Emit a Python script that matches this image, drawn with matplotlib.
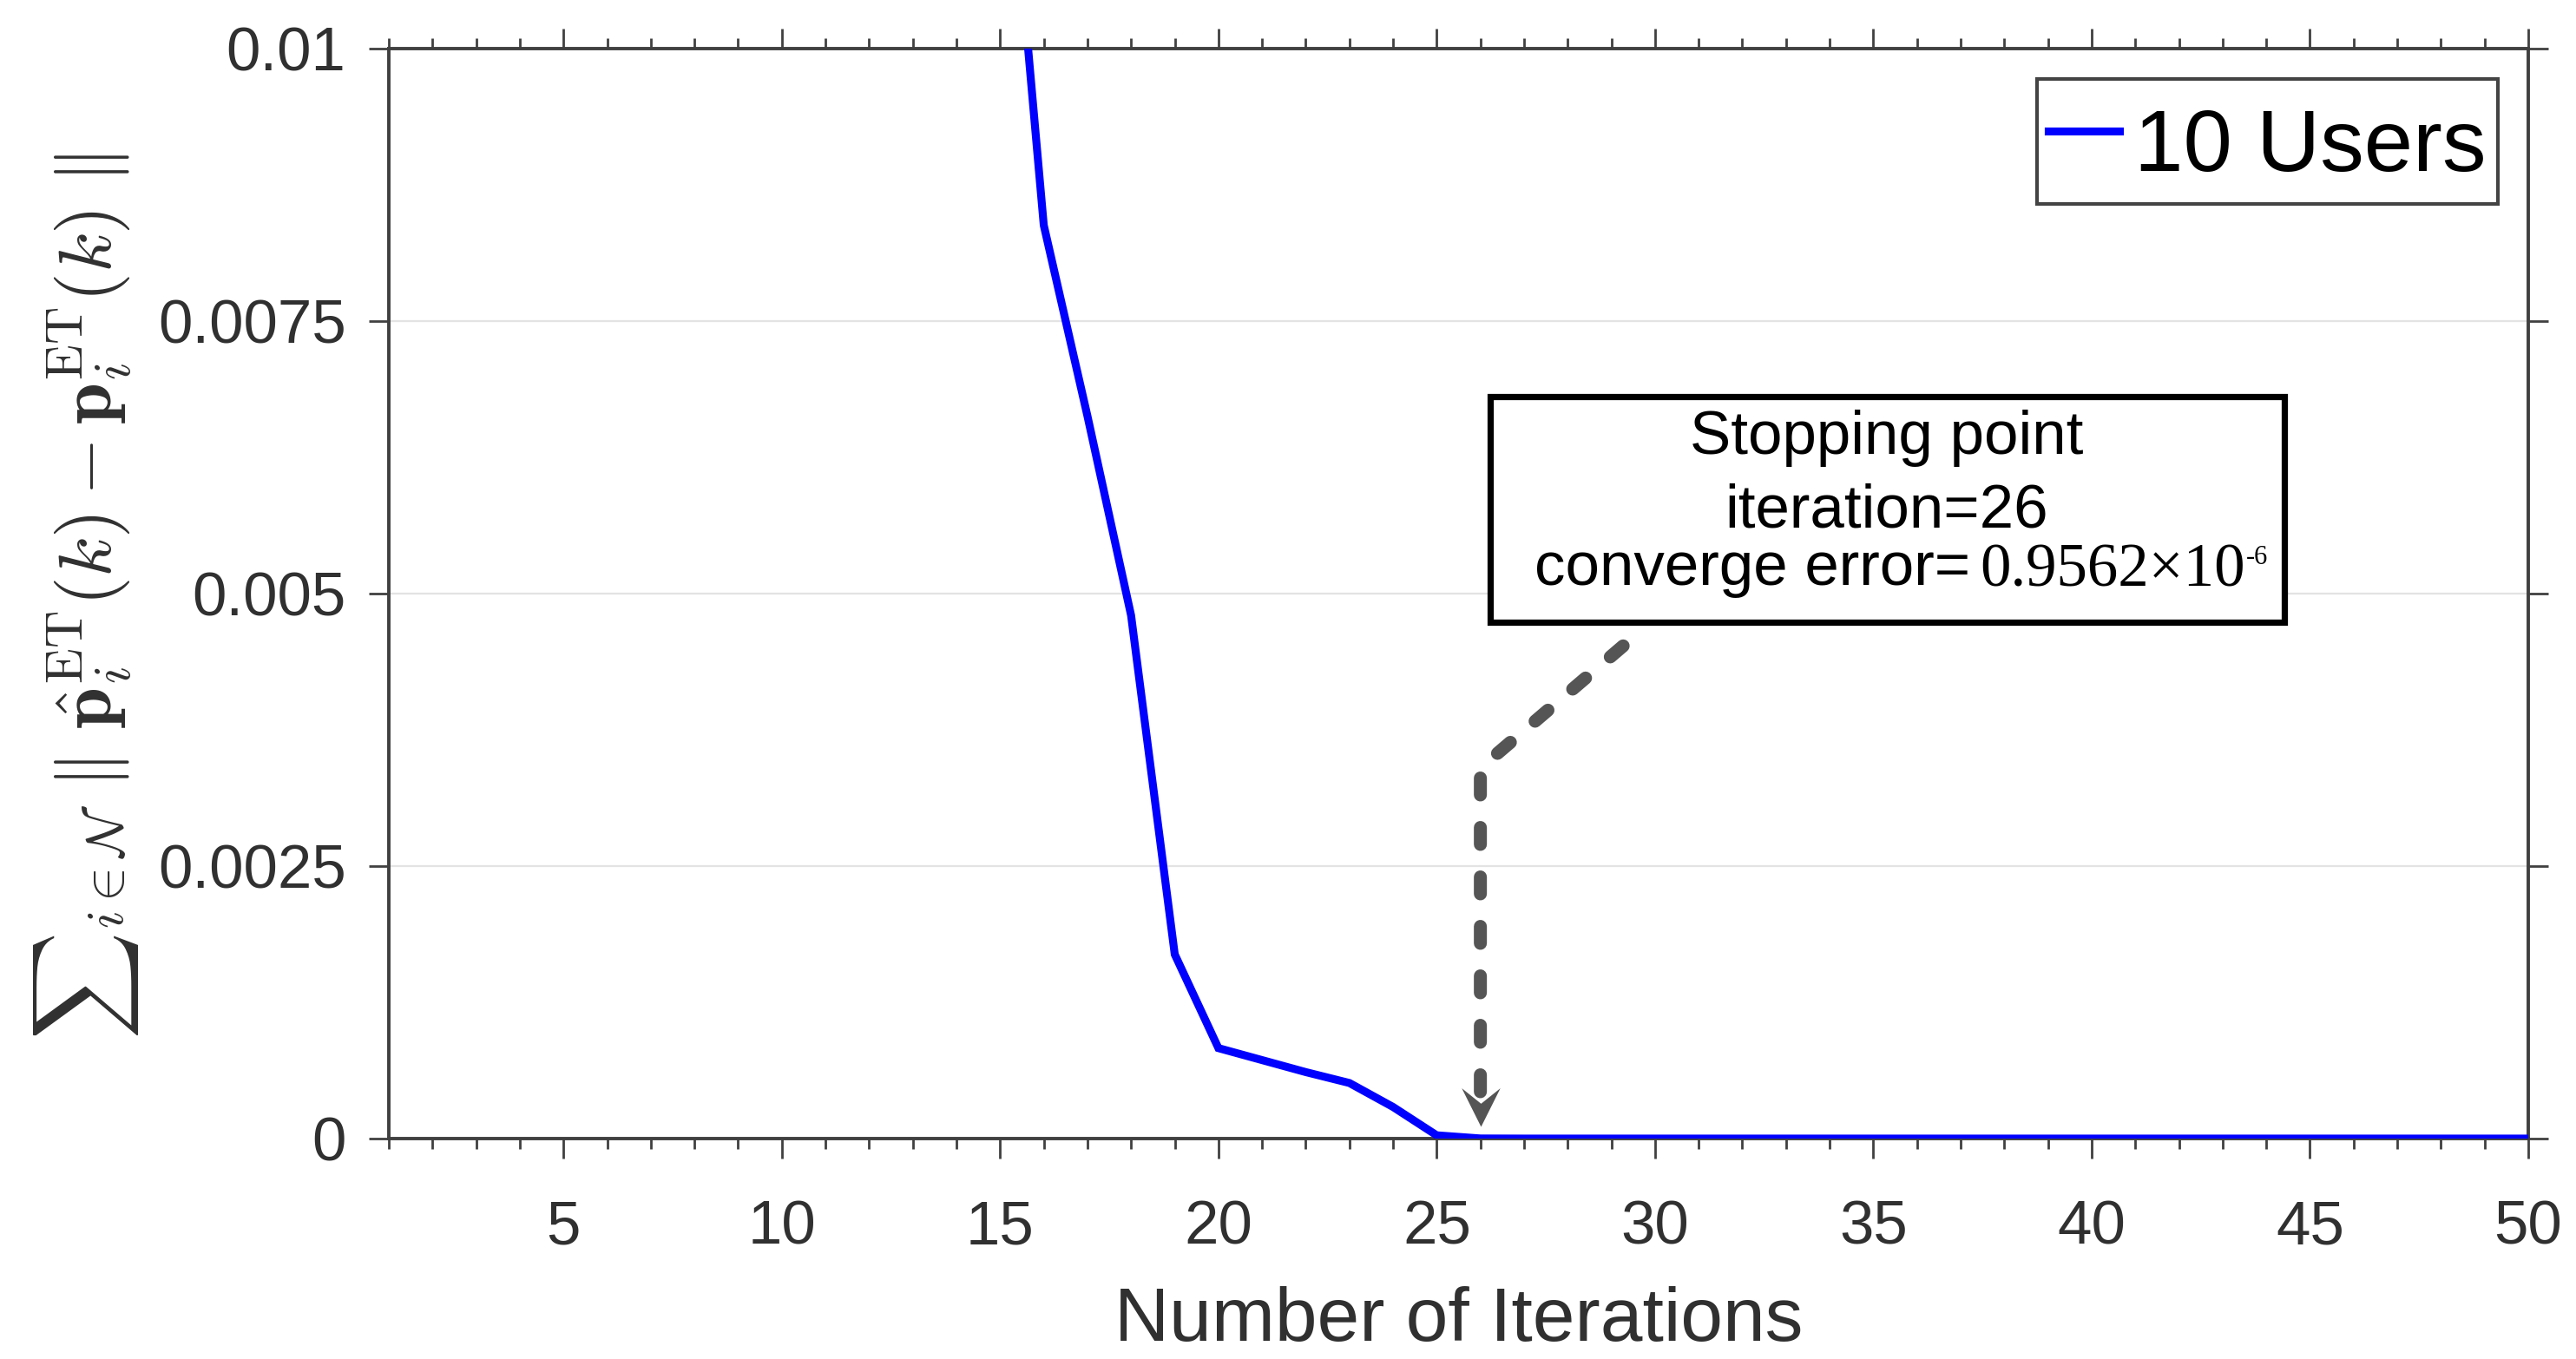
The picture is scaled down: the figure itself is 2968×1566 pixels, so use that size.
import matplotlib
matplotlib.use("Agg")
import matplotlib.pyplot as plt
from matplotlib.patches import Rectangle
from matplotlib.path import Path
from matplotlib.ticker import MultipleLocator, FixedLocator

plt.rcParams['font.family'] = ['Liberation Sans', 'DejaVu Sans']
plt.rcParams['mathtext.fontset'] = 'cm'

# ---- data ----
iterations = list(range(15, 51))
error_10_users = [0.0129, 0.00838, 0.00663, 0.0048, 0.00169, 0.00083,
                  0.00072, 0.00061, 0.00051, 0.00029, 0.00003, 9.562e-7] + [0.0] * 24
series_label = "10 Users"
y_ticks = [0, 0.0025, 0.005, 0.0075, 0.01]
y_tick_labels = ["0", "0.0025", "0.005", "0.0075", "0.01"]
x_major_ticks = [5, 10, 15, 20, 25, 30, 35, 40, 45, 50]
stop_iteration = 26
stop_error_text = "0.9562\u00d710"
stop_error_exp = "-6"

W, H = 2968, 1566
DPI = 200
fig = plt.figure(figsize=(W / DPI, H / DPI), dpi=DPI)
fig.patch.set_facecolor('white')

L, R, T, B = 448, 2913, 56, 1312
ax = fig.add_axes([L / W, 1 - B / H, (R - L) / W, (B - T) / H])

axcol = '#404040'
txtcol = '#303030'

ax.plot(iterations, error_10_users, color='#0000ff', lw=3.3, label=series_label,
        solid_joinstyle='miter', zorder=3)

ax.set_xlim(1, 50)
ax.set_ylim(0, 0.01)
ax.xaxis.set_major_locator(FixedLocator(x_major_ticks))
ax.xaxis.set_minor_locator(MultipleLocator(1))
ax.set_yticks(y_ticks)
ax.set_yticklabels(y_tick_labels)

ax.grid(axis='y', color='#e3e3e3', lw=0.8, zorder=0)
ax.set_axisbelow(True)

for s in ax.spines.values():
    s.set_color(axcol)
    s.set_linewidth(1.4)

ax.tick_params(axis='both', which='major', direction='out', length=8.3, width=1.0,
               color=axcol, labelcolor=txtcol, labelsize=25.5)
ax.tick_params(axis='x', which='major', pad=17, top=True)
ax.tick_params(axis='x', which='minor', direction='out', length=4.3, width=1.0,
               color=axcol, top=True)
ax.tick_params(axis='y', which='major', pad=9.5, right=True)

ax.set_xlabel("Number of Iterations", fontsize=31.5, color=txtcol)
ax.xaxis.set_label_coords(0.5, -0.135)
ax.set_ylabel(r"${\sum}_{i\in\mathcal{N}}\ \Vert\ \hat{\mathbf{p}}_i^{\mathrm{ET}}(k) - \mathbf{p}_i^{\mathrm{ET}}(k)\ \Vert$",
              fontsize=31, color=txtcol)
ax.yaxis.set_label_coords(-0.116, 0.497)

leg = ax.legend(loc='upper right', fontsize=36.5, handlelength=0.8, handletextpad=0.17,
                borderpad=0.13, borderaxespad=0.35, handleheight=1.4, fancybox=False,
                framealpha=1, edgecolor='#444444')
leg.get_frame().set_linewidth(1.5)
for t in leg.get_texts():
    t.set_color('black')


def fx(px):
    return px / W


def fy(py):
    return 1 - py / H


# annotation box
box = Rectangle((fx(1717), fy(717)), fx(2632) - fx(1717), fy(457) - fy(717),
                transform=fig.transFigure, fill=True, facecolor='white',
                edgecolor='black', lw=2.6, zorder=5)
fig.add_artist(box)
fig.text(fx(2174), fy(523), "Stopping point", ha='center', va='baseline',
         fontsize=25.5, color='black', zorder=6)
fig.text(fx(2174), fy(607), f"iteration={stop_iteration}", ha='center', va='baseline',
         fontsize=25.5, color='black', zorder=6)
fig.text(fx(1768), fy(674), "converge error=", ha='left', va='baseline',
         fontsize=25.5, color='black', zorder=6)
fig.text(fx(2281), fy(676), stop_error_text, ha='left', va='baseline',
         fontsize=25.5, color='black', family='Liberation Serif', zorder=6)
fig.text(fx(2588), fy(650), stop_error_exp, ha='left', va='baseline',
         fontsize=11, color='black', family='Liberation Serif', zorder=6)

# dashed leader arrow (data coordinates)
arrow_col = '#555555'
arrow_x = [29.27, stop_iteration, stop_iteration]
arrow_y = [0.00452, 0.0034, 0.0004]
ax.plot(arrow_x, arrow_y, color=arrow_col, lw=5.4, dashes=(1.3, 2.5),
        dash_capstyle='round', solid_capstyle='round', zorder=4, clip_on=False)
head = Path([(0, 0), (-0.5, 1.0), (0, 0.6), (0.5, 1.0), (0, 0)],
            [Path.MOVETO, Path.LINETO, Path.LINETO, Path.LINETO, Path.CLOSEPOLY])
ax.plot([stop_iteration], [0.00011], marker=head, markersize=32, color=arrow_col,
        markeredgewidth=0, linestyle='none', zorder=4)

fig.savefig("out.png", dpi=DPI, facecolor='white')
